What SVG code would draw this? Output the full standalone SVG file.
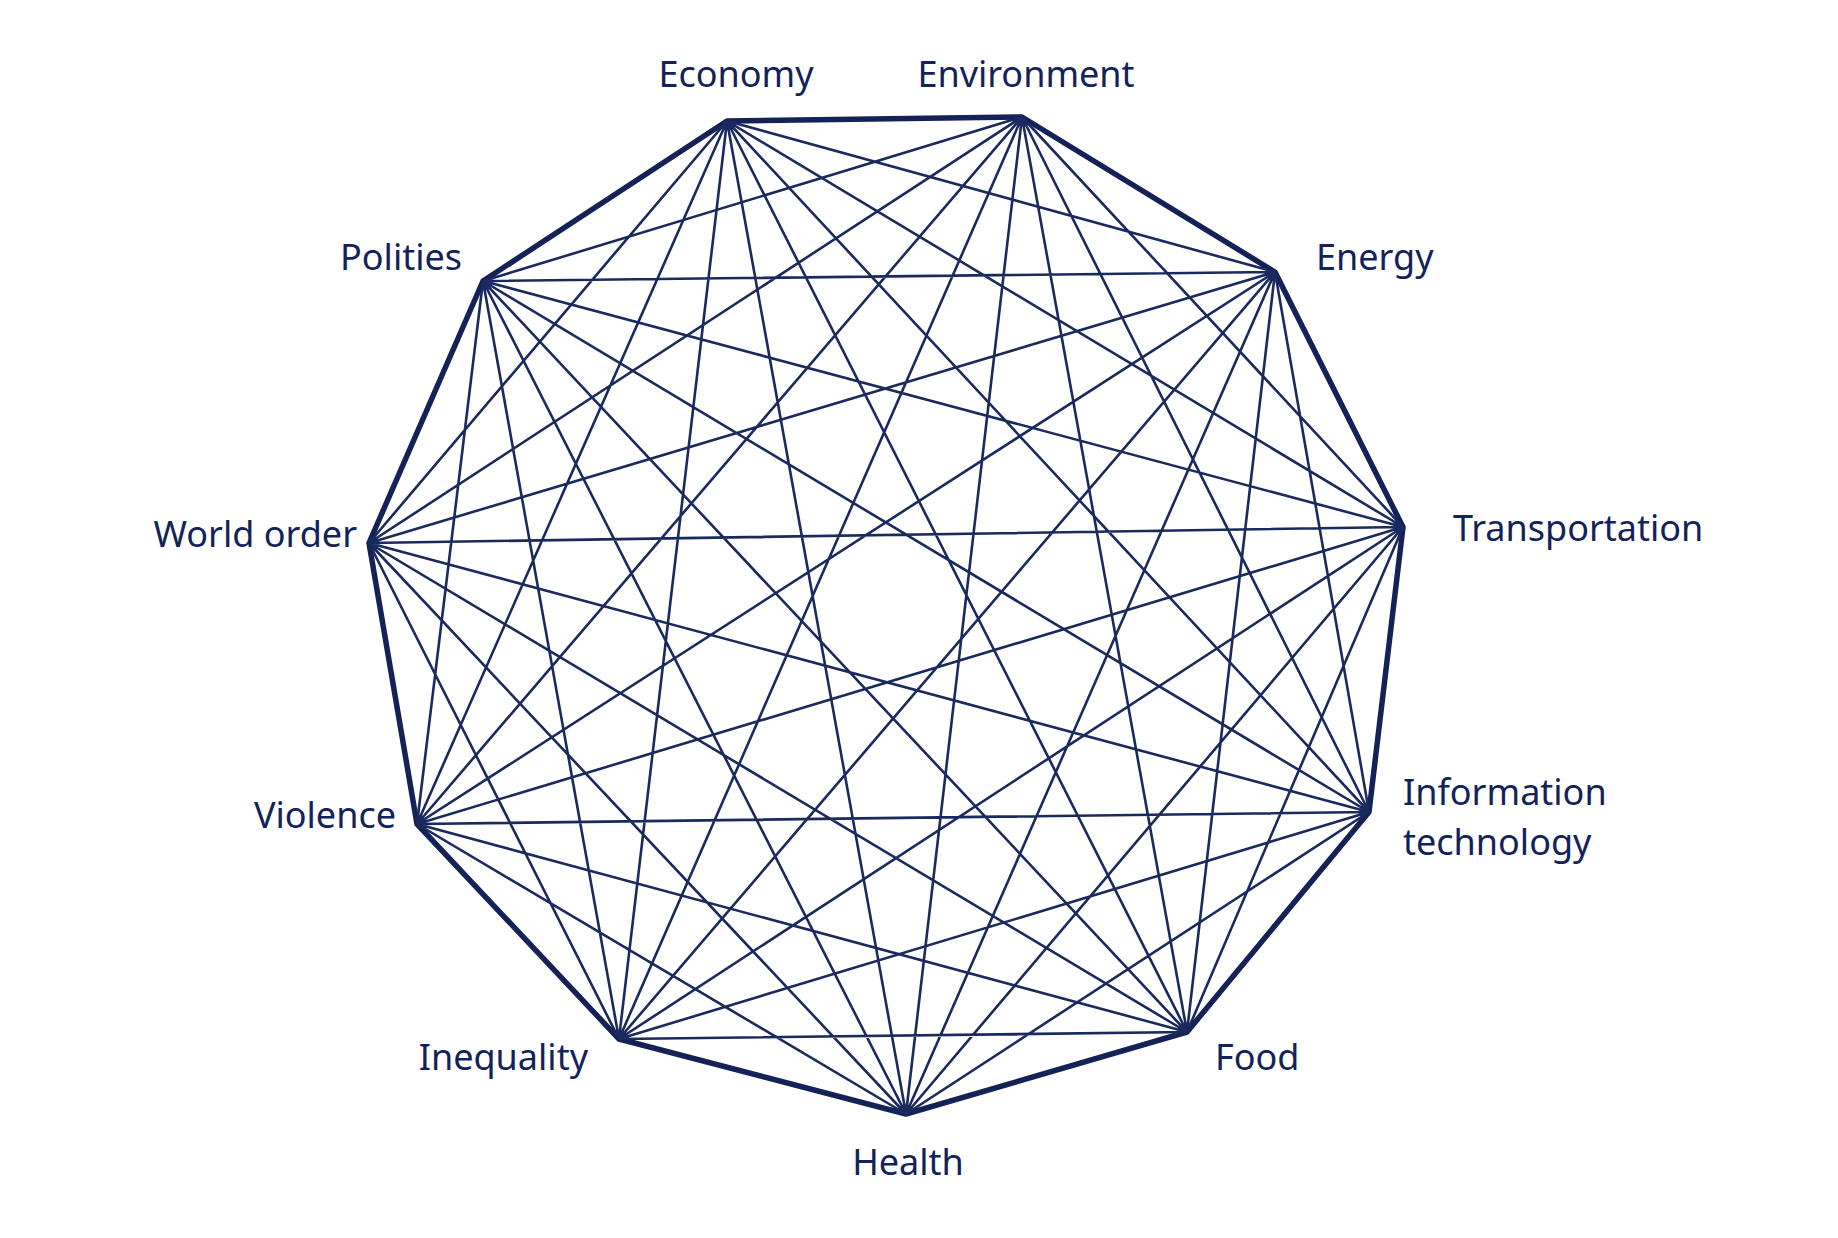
<svg xmlns="http://www.w3.org/2000/svg" width="1838" height="1238" viewBox="0 0 1838 1238">
<style>
.c{stroke:#1a2a5e;stroke-width:2.6;fill:none}
.p{stroke:#142257;stroke-width:5.5;fill:none;stroke-linejoin:round}
text{font-family:"Noto Sans","Liberation Sans",sans-serif;font-size:36px;fill:#14225a}
</style>
<rect width="1838" height="1238" fill="#fff"/>
<g id="connectors">
<polygon class="p" points="727,121 1022,117 1275,272 1403,527 1369,812 1187,1032 906,1114 619,1039 417,824 369,543 483,281"/>
<path class="c" d="M727,121L1275,272M727,121L1403,527M727,121L1369,812M727,121L1187,1032M727,121L906,1114M727,121L619,1039M727,121L417,824M727,121L369,543
M1022,117L1403,527M1022,117L1369,812M1022,117L1187,1032M1022,117L906,1114M1022,117L619,1039M1022,117L417,824M1022,117L369,543M1022,117L483,281
M1275,272L1369,812M1275,272L1187,1032M1275,272L906,1114M1275,272L619,1039M1275,272L417,824M1275,272L369,543M1275,272L483,281
M1403,527L1187,1032M1403,527L906,1114M1403,527L619,1039M1403,527L417,824M1403,527L369,543M1403,527L483,281
M1369,812L906,1114M1369,812L619,1039M1369,812L417,824M1369,812L369,543M1369,812L483,281
M1187,1032L619,1039M1187,1032L417,824M1187,1032L369,543M1187,1032L483,281
M906,1114L417,824M906,1114L369,543M906,1114L483,281
M619,1039L369,543M619,1039L483,281
M417,824L483,281"/>
</g>
<g id="economy"><text x="736" y="87" text-anchor="middle">Economy</text></g>
<g id="environment"><text x="1026" y="87" text-anchor="middle">Environment</text></g>
<g id="energy"><text x="1316" y="270">Energy</text></g>
<g id="transportation"><text x="1453" y="541">Transportation</text></g>
<g id="information-technology"><text x="1403" y="805">Information</text><text x="1403" y="855">technology</text></g>
<g id="food"><text x="1215" y="1070">Food</text></g>
<g id="health"><text x="908" y="1175" text-anchor="middle">Health</text></g>
<g id="inequality"><text x="588" y="1070" text-anchor="end">Inequality</text></g>
<g id="violence"><text x="396" y="828" text-anchor="end">Violence</text></g>
<g id="world-order"><text x="357" y="547" text-anchor="end">World order</text></g>
<g id="polities"><text x="462" y="270" text-anchor="end">Polities</text></g>
</svg>
